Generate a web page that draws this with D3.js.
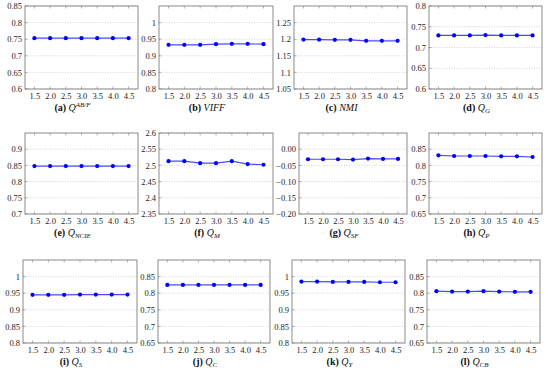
<!DOCTYPE html>
<html>
<head>
<meta charset="utf-8">
<script src="https://cdn.jsdelivr.net/npm/d3@7"></script>
<style>
  body { margin: 0; background: #fff; }
  svg { display: block; }
  svg text { font-family: "Liberation Serif", "DejaVu Serif", serif; }
</style>
</head>
<body>
<script>
// x values shared by all panels
const xValues = [1.5, 2.0, 2.5, 3.0, 3.5, 4.0, 4.5];
const xTickLabels = ["1.5", "2.0", "2.5", "3.0", "3.5", "4.0", "4.5"];

// panel letters and caption symbols (base, sub, sup)
const letters = ["a", "b", "c", "d", "e", "f", "g", "h", "i", "j", "k", "l"];
const symbols = [
  ["Q", "", "AB/F"], ["VIFF", "", ""], ["NMI", "", ""], ["Q", "G", ""],
  ["Q", "NCIE", ""], ["Q", "M", ""], ["Q", "SF", ""], ["Q", "P", ""],
  ["Q", "S", ""], ["Q", "C", ""], ["Q", "Y", ""], ["Q", "CB", ""]
];

// series values, one array per metric
const qabf  = [0.753, 0.753, 0.753, 0.753, 0.753, 0.753, 0.753];
const viff  = [0.933, 0.933, 0.933, 0.935, 0.936, 0.936, 0.935];
const nmi   = [1.199, 1.199, 1.198, 1.198, 1.195, 1.195, 1.195];
const qg    = [0.729, 0.729, 0.729, 0.730, 0.729, 0.729, 0.729];
const qncie = [0.848, 0.848, 0.848, 0.848, 0.848, 0.848, 0.848];
const qm    = [2.513, 2.513, 2.507, 2.507, 2.513, 2.504, 2.502];
const qsf   = [-0.031, -0.031, -0.031, -0.032, -0.029, -0.030, -0.030];
const qp    = [0.831, 0.829, 0.829, 0.829, 0.828, 0.828, 0.826];
const qs    = [0.945, 0.945, 0.945, 0.946, 0.946, 0.946, 0.946];
const qc    = [0.825, 0.825, 0.825, 0.825, 0.825, 0.825, 0.825];
const qy    = [0.985, 0.985, 0.984, 0.984, 0.984, 0.983, 0.983];
const qcb   = [0.806, 0.805, 0.805, 0.806, 0.805, 0.804, 0.804];
const series = [qabf, viff, nmi, qg, qncie, qm, qsf, qp, qs, qc, qy, qcb];

// y domains and tick labels
const yDomains = [
  [0.6, 0.85], [0.8, 1.05], [1.05, 1.3], [0.6, 0.8],
  [0.7, 0.95], [2.35, 2.6], [-0.2, 0.05], [0.65, 0.9],
  [0.8, 1.05], [0.65, 0.9], [0.8, 1.05], [0.65, 0.9]
];
const yTickLabels = [
  ["0.6", "0.65", "0.7", "0.75", "0.8", "0.85"],
  ["0.8", "0.85", "0.9", "0.95", "1"],
  ["1.05", "1.1", "1.15", "1.2", "1.25"],
  ["0.6", "0.65", "0.7", "0.75", "0.8"],
  ["0.7", "0.75", "0.8", "0.85", "0.9"],
  ["2.35", "2.4", "2.45", "2.5", "2.55", "2.6"],
  ["\u22120.20", "\u22120.15", "\u22120.10", "\u22120.05", "0.00"],
  ["0.65", "0.7", "0.75", "0.8", "0.85"],
  ["0.8", "0.85", "0.9", "0.95", "1"],
  ["0.65", "0.7", "0.75", "0.8", "0.85"],
  ["0.8", "0.85", "0.9", "0.95", "1"],
  ["0.65", "0.7", "0.75", "0.8", "0.85"]
];

// panel boxes [left, right, top, bottom]
const boxes = [
  [25, 138, 6, 89], [159, 273, 6, 89], [294, 407, 6, 89], [429, 542, 6, 89],
  [25, 138, 133, 214], [159, 273, 133, 214], [299, 407, 133, 214], [429, 542, 133, 214],
  [23, 137, 260, 343], [158, 270, 260, 343], [292, 405, 260, 343], [427, 540, 260, 343]
];

const svg = d3.select("body").append("svg")
  .attr("width", 550)
  .attr("height", 374);

series.forEach((vals, i) => {
  const [l, r, t, b] = boxes[i];
  const x = d3.scaleLinear().domain([1.2, 4.8]).range([l, r]);
  const y = d3.scaleLinear().domain(yDomains[i]).range([b, t]);
  const yTicks = yTickLabels[i].map(s => +s.replace("\u2212", "-"));

  const g = svg.append("g");

  // grid
  g.selectAll(".grid")
    .data(yTicks)
    .enter().append("line")
    .attr("x1", l).attr("x2", r)
    .attr("y1", d => y(d)).attr("y2", d => y(d))
    .attr("stroke", "#b8b8b8")
    .attr("stroke-width", 0.6)
    .attr("stroke-dasharray", "1,1.5");

  // y axis labels
  const ya = g.append("g")
    .attr("transform", `translate(${l},0)`)
    .call(d3.axisLeft(y).tickValues(yTicks).tickSize(0).tickPadding(3)
      .tickFormat((d, k) => yTickLabels[i][k]));
  ya.attr("font-family", null);
  ya.select(".domain").remove();
  ya.selectAll("text")
    .style("font-size", "8.5px")
    .attr("fill", "#222");

  // inner y tick marks
  g.selectAll(".ytk")
    .data(yTicks)
    .enter().append("line")
    .attr("x1", l).attr("x2", l + 2.5)
    .attr("y1", d => y(d)).attr("y2", d => y(d))
    .attr("stroke", "#666").attr("stroke-width", 0.5);

  // x axis labels
  const xa = g.append("g")
    .attr("transform", `translate(0,${b})`)
    .call(d3.axisBottom(x).tickValues(xValues).tickSize(0).tickPadding(4)
      .tickFormat((d, k) => xTickLabels[k]));
  xa.attr("font-family", null);
  xa.select(".domain").remove();
  xa.selectAll("text")
    .style("font-size", "8.5px")
    .attr("fill", "#222");

  // inner x tick marks top and bottom
  g.selectAll(".xtb")
    .data(xValues)
    .enter().append("line")
    .attr("x1", d => x(d)).attr("x2", d => x(d))
    .attr("y1", b).attr("y2", b - 2.5)
    .attr("stroke", "#666").attr("stroke-width", 0.5);
  g.selectAll(".xtt")
    .data(xValues)
    .enter().append("line")
    .attr("x1", d => x(d)).attr("x2", d => x(d))
    .attr("y1", t).attr("y2", t + 2.5)
    .attr("stroke", "#666").attr("stroke-width", 0.5);

  // frame
  g.append("rect")
    .attr("x", l).attr("y", t)
    .attr("width", r - l).attr("height", b - t)
    .attr("fill", "none")
    .attr("stroke", "#6e6e6e")
    .attr("stroke-width", 0.8);

  // line + markers
  const line = d3.line()
    .x((d, k) => x(xValues[k]))
    .y(d => y(d));
  g.append("path")
    .datum(vals)
    .attr("d", line)
    .attr("fill", "none")
    .attr("stroke", "#4a4aff")
    .attr("stroke-width", 1.2);
  g.selectAll(".pt")
    .data(vals)
    .enter().append("circle")
    .attr("cx", (d, k) => x(xValues[k]))
    .attr("cy", d => y(d))
    .attr("r", 2.1)
    .attr("fill", "#0000ff");

  // caption
  const [base, sub, sup] = symbols[i];
  const cap = g.append("text")
    .attr("x", (l + r) / 2 - 9)
    .attr("y", b + 22)
    .attr("text-anchor", "middle")
    .style("font-size", "10px")
    .attr("fill", "#111");
  cap.append("tspan").attr("font-weight", "bold").text(`(${letters[i]})`);
  cap.append("tspan").attr("font-style", "italic").text(" " + base);
  if (sub) {
    cap.append("tspan").attr("font-style", "italic")
      .style("font-size", "7px").attr("dy", 2).text(sub);
  }
  if (sup) {
    cap.append("tspan").attr("font-style", "italic")
      .style("font-size", "7px").attr("dy", -4).text(sup);
  }
});
</script>
</body>
</html>
